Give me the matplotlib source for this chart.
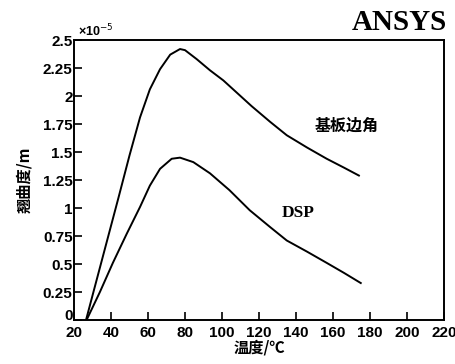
import numpy as np
import matplotlib.pyplot as plt
from matplotlib.ticker import FuncFormatter
from matplotlib.transforms import ScaledTranslation

# temperature (C) and warpage (x1e-5 m)
temp_edge = [26.5, 30.5, 35, 39.5, 44, 50, 55.7, 61, 66.5, 72, 77.3, 80, 86.3, 93.5,
             100.7, 116, 126, 135, 146, 156.6, 166, 174]
warp_edge = [0, 0.25, 0.53, 0.81, 1.09, 1.47, 1.81, 2.06, 2.24, 2.37, 2.42, 2.41, 2.33, 2.23,
             2.14, 1.91, 1.77, 1.65, 1.54, 1.44, 1.36, 1.29]

temp_dsp = [26.8, 34, 41, 48.5, 55.7, 61, 66.5, 72.8, 77.3, 84.5, 93.5, 104, 115, 126,
            135, 146, 156.6, 166, 175]
warp_dsp = [0, 0.25, 0.51, 0.77, 1.01, 1.20, 1.35, 1.44, 1.45, 1.41, 1.31, 1.16, 0.98, 0.83,
            0.71, 0.61, 0.51, 0.42, 0.33]

xticks = np.arange(20, 221, 20)
yticks = np.arange(0, 2.51, 0.25)

plt.rcParams['font.family'] = ['Liberation Sans', 'DejaVu Sans']

fig = plt.figure(figsize=(4.56, 3.64), dpi=100)
ax = fig.add_axes([0.1623, 0.1209, 0.8114, 0.769])

ax.plot(temp_edge, warp_edge, color='black', lw=1.4)
ax.plot(temp_dsp, warp_dsp, color='black', lw=1.4)

ax.set_xlim(20, 220)
ax.set_ylim(0, 2.5)
ax.set_xticks(xticks)
ax.set_yticks(yticks)
ax.yaxis.set_major_formatter(FuncFormatter(lambda v, p: '%g' % v))
ax.tick_params(direction='in', length=6, width=1.2, labelsize=11, top=False, right=False)
ax.tick_params(axis='x', pad=4)
ax.tick_params(axis='y', pad=1)
for lab in ax.get_xticklabels() + ax.get_yticklabels():
    lab.set_fontweight('bold')
# lift the "0" a bit so it clears the "20" below it
zero = ax.yaxis.get_major_ticks()[0].label1
zero.set_transform(zero.get_transform() + ScaledTranslation(0, 4 / 72, fig.dpi_scale_trans))
for s in ax.spines.values():
    s.set_linewidth(1.4)

ax.text(0.01, 1.003, '×10$^{-5}$', transform=ax.transAxes, fontsize=9,
        fontweight='bold', ha='left', va='bottom')

cjk = ['Noto Sans CJK SC', 'Liberation Serif']
ax.set_xlabel('温度/℃', family=cjk, fontweight='bold', fontsize=11, labelpad=0)
ax.set_ylabel('翘曲度/m', family=cjk, fontweight='bold', fontsize=11, labelpad=8)

ax.text(167.5, 1.74, '基板边角', family=cjk, fontweight='bold', fontsize=11.5,
        ha='center', va='center')
ax.text(141, 0.96, 'DSP', family='Liberation Serif', fontweight='bold', fontsize=12.5,
        ha='center', va='center')

fig.text(0.981, 0.975, 'ANSYS', family='Liberation Serif', fontweight='bold',
         fontsize=21, ha='right', va='top')

fig.savefig('out.png', dpi=100)
